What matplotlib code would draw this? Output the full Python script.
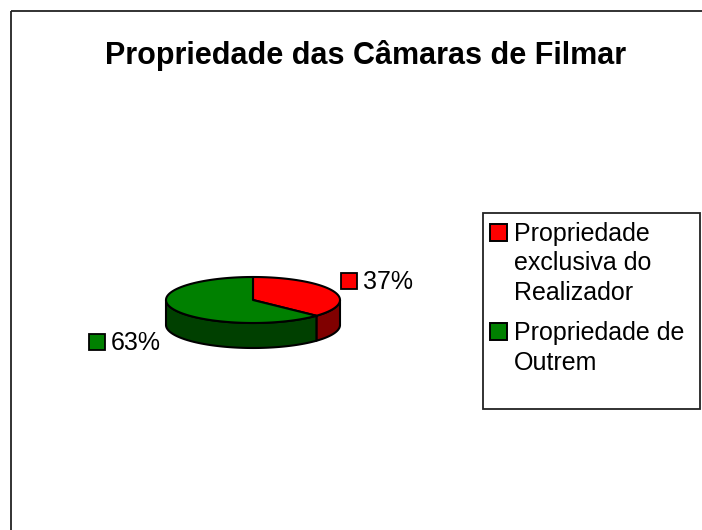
import matplotlib
matplotlib.use("Agg")
import matplotlib.pyplot as plt
from matplotlib.patches import Polygon, Rectangle
import numpy as np

plt.rcParams["font.family"] = ["Liberation Sans", "DejaVu Sans"]

# data
title = "Propriedade das Câmaras de Filmar"
categories = ["Propriedade\nexclusiva do\nRealizador", "Propriedade de\nOutrem"]
values = [37, 63]
top_colors = ["#FF0000", "#008000"]
side_colors = ["#800000", "#004000"]

# layout (pixel coords, y down)
W, H = 702, 530
cx, cy, rx, ry, depth = 253, 300, 87, 23, 25
label_pos = [(341, 289), (89, 350)]   # marker left edge, text baseline
legend_base = [241, 340]              # first-line baselines of legend entries
line_step = 29.5

fig = plt.figure(figsize=(W / 100, H / 100), dpi=100)
ax = fig.add_axes([0, 0, 1, 1])
ax.set_xlim(0, W)
ax.set_ylim(H, 0)
ax.axis("off")

# outer frame
ax.add_patch(Rectangle((11, 11), W, H, fill=False, edgecolor="#222222", lw=1.3))

ax.text(366, 64, title, ha="center", va="baseline", fontsize=22,
        fontweight="bold")


def ell(theta, dy=0):
    t = np.radians(theta)
    return np.column_stack([cx + rx * np.cos(t), cy - ry * np.sin(t) + dy])


total = sum(values)
start = 90.0
spans = []
for v in values:
    end = start - 360.0 * v / total
    spans.append((start, end))
    start = end

# side walls (front half: angles between -180 and 0)
for (a0, a1), sc in zip(spans, side_colors):
    for shift in (0, -360, 360):
        hi, lo = a0 + shift, a1 + shift
        s_hi, s_lo = min(hi, 0), max(lo, -180)
        if s_hi > s_lo:
            th = np.linspace(s_hi, s_lo, 80)
            top = ell(th)
            bot = ell(th[::-1], depth)
            ax.add_patch(Polygon(np.vstack([top, bot]), closed=True,
                                 facecolor=sc, edgecolor="black", lw=1.5,
                                 joinstyle="round"))

# top faces
for (a0, a1), tc in zip(spans, top_colors):
    th = np.linspace(a0, a1, 200)
    pts = np.vstack([[cx, cy], ell(th)])
    ax.add_patch(Polygon(pts, closed=True, facecolor=tc, edgecolor="black",
                         lw=1.5, joinstyle="round"))

# data labels
for v, tc, (lx, ly) in zip(values, top_colors, label_pos):
    txt = f"{v / total * 100:.0f}%"
    ax.add_patch(Rectangle((lx, ly - 16), 16, 16, facecolor=tc,
                           edgecolor="black", lw=1.3))
    ax.text(lx + 22, ly, txt, ha="left", va="baseline", fontsize=18)

# legend
ax.add_patch(Rectangle((483, 213), 217, 196, fill=False, edgecolor="#222222",
                       lw=1.3))
for lab, tc, by in zip(categories, top_colors, legend_base):
    ax.add_patch(Rectangle((490, by - 17), 17, 17, facecolor=tc,
                           edgecolor="black", lw=1.4))
    # baseline alignment refers to the last line of multi-line text
    n_extra = lab.count("\n")
    ax.text(514, by + n_extra * line_step, lab, ha="left", va="baseline",
            fontsize=18, linespacing=1.3)

fig.savefig("out.png", dpi=100, facecolor="white")
